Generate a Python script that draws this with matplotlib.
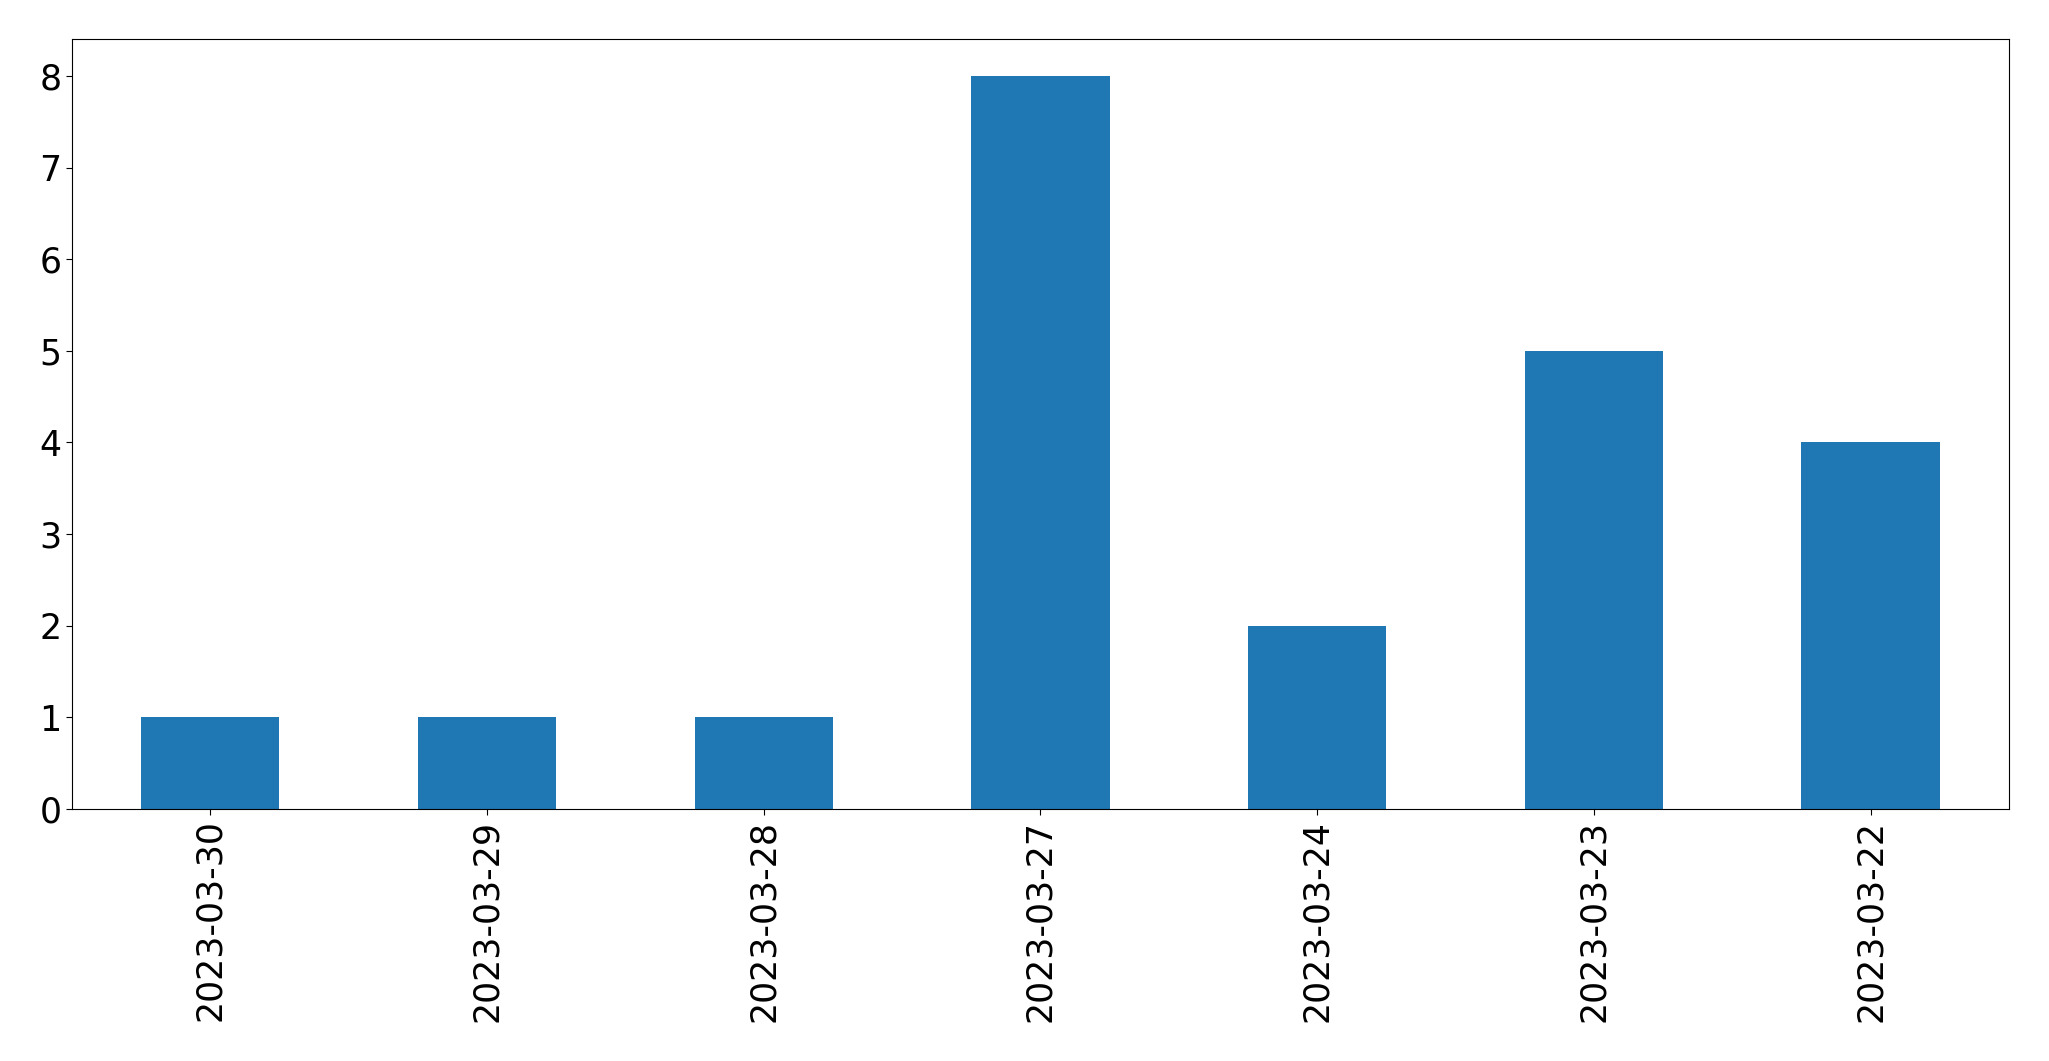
import matplotlib
matplotlib.use('Agg')
import matplotlib.pyplot as plt
import pandas as pd

# 数据
dates = ['2023-03-30', '2023-03-29', '2023-03-28', '2023-03-27',
         '2023-03-24', '2023-03-23', '2023-03-22']
counts = [1, 1, 1, 8, 2, 5, 4]

s = pd.Series(counts, index=dates)

fig = plt.figure(figsize=(20.49, 10.61), dpi=100)
ax = fig.add_axes([0.0351, 0.2375, 0.9454, 0.7255])

s.plot(kind='bar', ax=ax, color='#1f77b4')

ax.tick_params(axis='both', labelsize=25, length=4.1)
ax.set_xlabel('')

fig.savefig('out.png', dpi=100)
